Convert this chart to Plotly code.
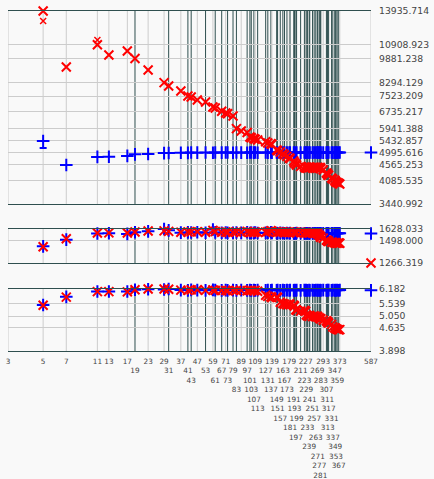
import math
import plotly.graph_objects as go

# ---------------- data ----------------
primes = [3, 5, 7, 11, 13, 17, 19, 23, 29, 31,
          37, 41, 43, 47, 53, 59, 61, 67, 71, 73,
          79, 83, 89, 97, 101, 103, 107, 109, 113, 127,
          131, 137, 139, 149, 151, 157, 163, 167, 173, 179,
          181, 191, 193, 197, 199, 211, 223, 227, 229, 233,
          239, 241, 251, 257, 263, 269, 271, 277, 281, 283,
          293, 307, 311, 313, 317, 331, 337, 347, 349, 353,
          359, 367, 373, 587]

top_red = [None, 13935.714, 9289, 10908.923, 10130, 10428, 9881.238, 9087, 8294.129, 8093,
           7805, 7523.209, 7472, 7311, 7205, 6949, 6900, 6735.217, 6654, 6620,
           6511, 5941.388, 5840, 5780, 5591, 5560, 5530, 5500, 5470, 5400,
           5354, 5330, 5300, 5089, 5060, 5015, 4950, 4907, 4860, 4802,
           4780, 4700, 4640, 4600, 4560, 4520, 4499, 4467, 4480, 4460,
           4499, 4470, 4467, 4495, 4480, 4460, 4490, 4467, 4480, 4440,
           4403, 4308, 4290, 4246, 4240, 4155, 4120, 4085.535, 4060, 4036,
           4020, 4000, 3978, 3440.992]
top_blue = [None, 5432.857, 4565.253, 4840, 4845, 4875, 4930, 4945, 4975, 4980,
            4990, 4985, 4995, 4992, 4998, 4990, 4996, 4993, 5000, 4995,
            4990, 4998, 4994, 4990, 4996, 5002, 4993, 4995, 4990, 4997,
            4994, 5000, 4992, 4996, 4990, 4995, 4998, 4993, 4996, 4991,
            4995, 4999, 4993, 4990, 4996, 4994, 4998, 4992, 4995, 4997,
            4993, 4996, 4991, 4995, 4999, 4994, 4996, 4992, 4995, 4998,
            4994, 4991, 4996, 4993, 4997, 4995, 4992, 4996, 4994, 4998,
            4993, 4996, 4995, 4995.616]
top_red_extra_x = [5, 11]
top_red_extra = [12964, 11293]
top_blue_extra_x = [5]
top_blue_extra = [5163]

mid_red = [1604, 1428, 1515, 1580, 1582, 1580, 1592, 1605, 1606, 1600,
           1590, 1592, 1594, 1596, 1590, 1612, 1598, 1590, 1592, 1590,
           1588, 1592, 1590, 1598, 1588, 1590, 1586, 1592, 1588, 1590,
           1596, 1608, 1600, 1592, 1588, 1590, 1594, 1586, 1592, 1588,
           1590, 1586, 1590, 1588, 1584, 1590, 1586, 1582, 1586, 1582,
           1584, 1580, 1582, 1578, 1580, 1575, 1570, 1555, 1540, 1530,
           1522, 1500, 1495, 1490, 1485, 1478, 1475, 1470, 1468, 1470,
           1466, 1468, 1466, 1266.319]
mid_blue = [1604, 1432, 1505, 1575, 1578, 1570, 1590, 1600, 1628.033, 1612,
            1585, 1588, 1586, 1590, 1584, 1622, 1588, 1584, 1586, 1582,
            1584, 1586, 1582, 1590, 1580, 1584, 1582, 1586, 1580, 1582,
            1584, 1590, 1582, 1580, 1578, 1582, 1580, 1578, 1580, 1578,
            1580, 1578, 1576, 1578, 1580, 1578, 1576, 1578, 1577, 1578,
            1576, 1578, 1577, 1578, 1576, 1578, 1577, 1576, 1578, 1577,
            1578, 1576, 1577, 1578, 1576, 1577, 1578, 1576, 1577, 1578,
            1576, 1577, 1578, 1575]

bot_red = [6.09, 5.48, 5.82, 6.06, 6.06, 6.05, 6.15, 6.18, 6.182, 6.17,
           6.13, 6.12, 6.14, 6.15, 6.12, 6.14, 6.12, 6.11, 6.12, 6.10,
           6.12, 6.11, 6.12, 6.10, 6.12, 6.11, 6.10, 6.12, 6.08, 5.90,
           5.85, 5.83, 5.80, 5.82, 5.80, 5.60, 5.55, 5.52, 5.50, 5.53,
           5.50, 5.48, 5.45, 5.30, 5.28, 5.25, 5.27, 5.24, 5.10, 5.06,
           5.05, 5.08, 5.04, 5.06, 5.03, 5.05, 5.02, 4.98, 4.96, 4.95,
           4.90, 4.88, 4.86, 4.82, 4.80, 4.75, 4.66, 4.63, 4.62, 4.60,
           4.58, 4.56, 4.57, 3.898]
bot_blue = [6.09, 5.49, 5.83, 6.07, 6.07, 6.07, 6.15, 6.17, 6.16, 6.18,
            6.13, 6.12, 6.14, 6.13, 6.12, 6.14, 6.13, 6.12, 6.13, 6.12,
            6.13, 6.12, 6.13, 6.12, 6.13, 6.12, 6.13, 6.12, 6.13, 6.12,
            6.13, 6.12, 6.13, 6.12, 6.13, 6.12, 6.13, 6.12, 6.13, 6.12,
            6.13, 6.12, 6.13, 6.12, 6.13, 6.12, 6.13, 6.12, 6.13, 6.12,
            6.13, 6.12, 6.13, 6.12, 6.13, 6.12, 6.13, 6.12, 6.13, 6.12,
            6.13, 6.12, 6.13, 6.12, 6.13, 6.12, 6.13, 6.12, 6.13, 6.12,
            6.13, 6.12, 6.13, 6.12]

top_ticks = [13935.714, 10908.923, 9881.238, 8294.129, 7523.209, 6735.217,
             5941.388, 5432.857, 4995.616, 4565.253, 4085.535, 3440.992]
mid_ticks = [1628.033, 1498.000, 1266.319]
bot_ticks = [6.182, 5.539, 5.050, 4.635, 3.898]

for arr in (top_red, top_blue, mid_red, mid_blue, bot_red, bot_blue):
    assert len(arr) == len(primes)

# ---------------- styling ----------------
BG = "#f9f9f9"
LIGHT = "#cccccc"
DARK = "#2f4f4f"
TEXT = "#444444"
FONT = "DejaVu Sans"
PLOT_W = 363  # px width of the plotting area

LOG_MIN = math.log10(min(primes))
LOG_MAX = math.log10(max(primes))


def stagger_rows(values, char_w=4.8, gap=1.55):
    """Greedy placement of x tick labels in rows so that they don't overlap."""
    row_right = []
    rows = []
    for v in values:
        c = (math.log10(v) - LOG_MIN) / (LOG_MAX - LOG_MIN) * PLOT_W
        w = len(str(v)) * char_w
        left, right = c - w / 2, c + w / 2
        lvl = 0
        while lvl < len(row_right) and row_right[lvl] + gap > left:
            lvl += 1
        if lvl == len(row_right):
            row_right.append(right)
        else:
            row_right[lvl] = right
        rows.append(lvl)
    return rows


rows = stagger_rows(primes)
tick_text = ["\u00a0<br>" * r + str(p) for p, r in zip(primes, rows)]
line_colors = [LIGHT if r == 0 else DARK for r in rows]

panels = [
    dict(red=top_red, blue=top_blue, ticks=top_ticks, domain=[0.4324, 1.0]),
    dict(red=mid_red, blue=mid_blue, ticks=mid_ticks, domain=[0.2588, 0.3588]),
    dict(red=bot_red, blue=bot_blue, ticks=bot_ticks, domain=[0.0, 0.1824]),
]

fig = go.Figure()
shapes = []
layout_axes = {}

RED_MK = dict(symbol="x-thin-open", size=9, color="#ff0000",
              line=dict(color="#ff0000", width=2))
BLUE_MK = dict(symbol="cross-thin-open", size=9, color="#0000ff",
               line=dict(color="#0000ff", width=2))

for i, pnl in enumerate(panels, start=1):
    xa = "x" if i == 1 else f"x{i}"
    ya = "y" if i == 1 else f"y{i}"
    xkey = "xaxis" if i == 1 else f"xaxis{i}"
    ykey = "yaxis" if i == 1 else f"yaxis{i}"

    # vertical guide lines at each x tick
    for p, col in zip(primes, line_colors):
        shapes.append(dict(type="line", xref=xa, yref=f"{ya} domain",
                           x0=p, x1=p, y0=0, y1=1, layer="below",
                           line=dict(color=col, width=1)))

    fig.add_trace(go.Scatter(x=primes, y=pnl["blue"], mode="markers",
                             xaxis=xa, yaxis=ya, cliponaxis=False, marker=BLUE_MK))
    if i == 1:
        fig.add_trace(go.Scatter(
            x=top_blue_extra_x, y=top_blue_extra, mode="markers", xaxis=xa, yaxis=ya,
            cliponaxis=False,
            marker=dict(symbol="line-ew-open", size=5, color="#0000ff",
                        line=dict(color="#0000ff", width=2))))
    fig.add_trace(go.Scatter(x=primes, y=pnl["red"], mode="markers",
                             xaxis=xa, yaxis=ya, cliponaxis=False, marker=RED_MK))
    if i == 1:
        fig.add_trace(go.Scatter(
            x=top_red_extra_x, y=top_red_extra, mode="markers", xaxis=xa, yaxis=ya,
            cliponaxis=False,
            marker=dict(symbol="x-thin-open", size=6, color="#ff0000",
                        line=dict(color="#ff0000", width=1.5))))

    ticks = pnl["ticks"]
    layout_axes[ykey] = dict(
        domain=pnl["domain"], anchor=xa, type="log", side="right",
        range=[math.log10(min(ticks)), math.log10(max(ticks))],
        tickvals=ticks, ticktext=[f"{t:.3f}" for t in ticks],
        showgrid=True, gridcolor=LIGHT, gridwidth=1, zeroline=False,
        showline=False, ticks="", ticklabelstandoff=7, automargin=False,
        tickfont=dict(family=FONT, size=9.25, color=TEXT))
    xa_cfg = dict(
        anchor=ya, type="log", range=[LOG_MIN, LOG_MAX], domain=[0, 1],
        showgrid=False, zeroline=False, showline=True, mirror=True,
        linecolor=DARK, linewidth=1, ticks="", automargin=False)
    if i == 3:
        xa_cfg.update(tickmode="array", tickvals=primes, ticktext=tick_text,
                      tickangle=0, showticklabels=True, ticklabelstandoff=3,
                      tickfont=dict(family=FONT, size=7.3, color=TEXT))
    else:
        xa_cfg.update(showticklabels=False, matches="x3")
    layout_axes[xkey] = xa_cfg

fig.update_layout(
    width=434, height=479,
    margin=dict(l=8, r=63, t=11, b=128),
    paper_bgcolor=BG, plot_bgcolor=BG,
    showlegend=False,
    font=dict(family=FONT, color=TEXT),
    shapes=shapes,
    **layout_axes)

fig.write_html(
    "out.html",
    config={"displayModeBar": False},
    post_script="document.body.style.margin='0';document.body.style.overflow='hidden';")
